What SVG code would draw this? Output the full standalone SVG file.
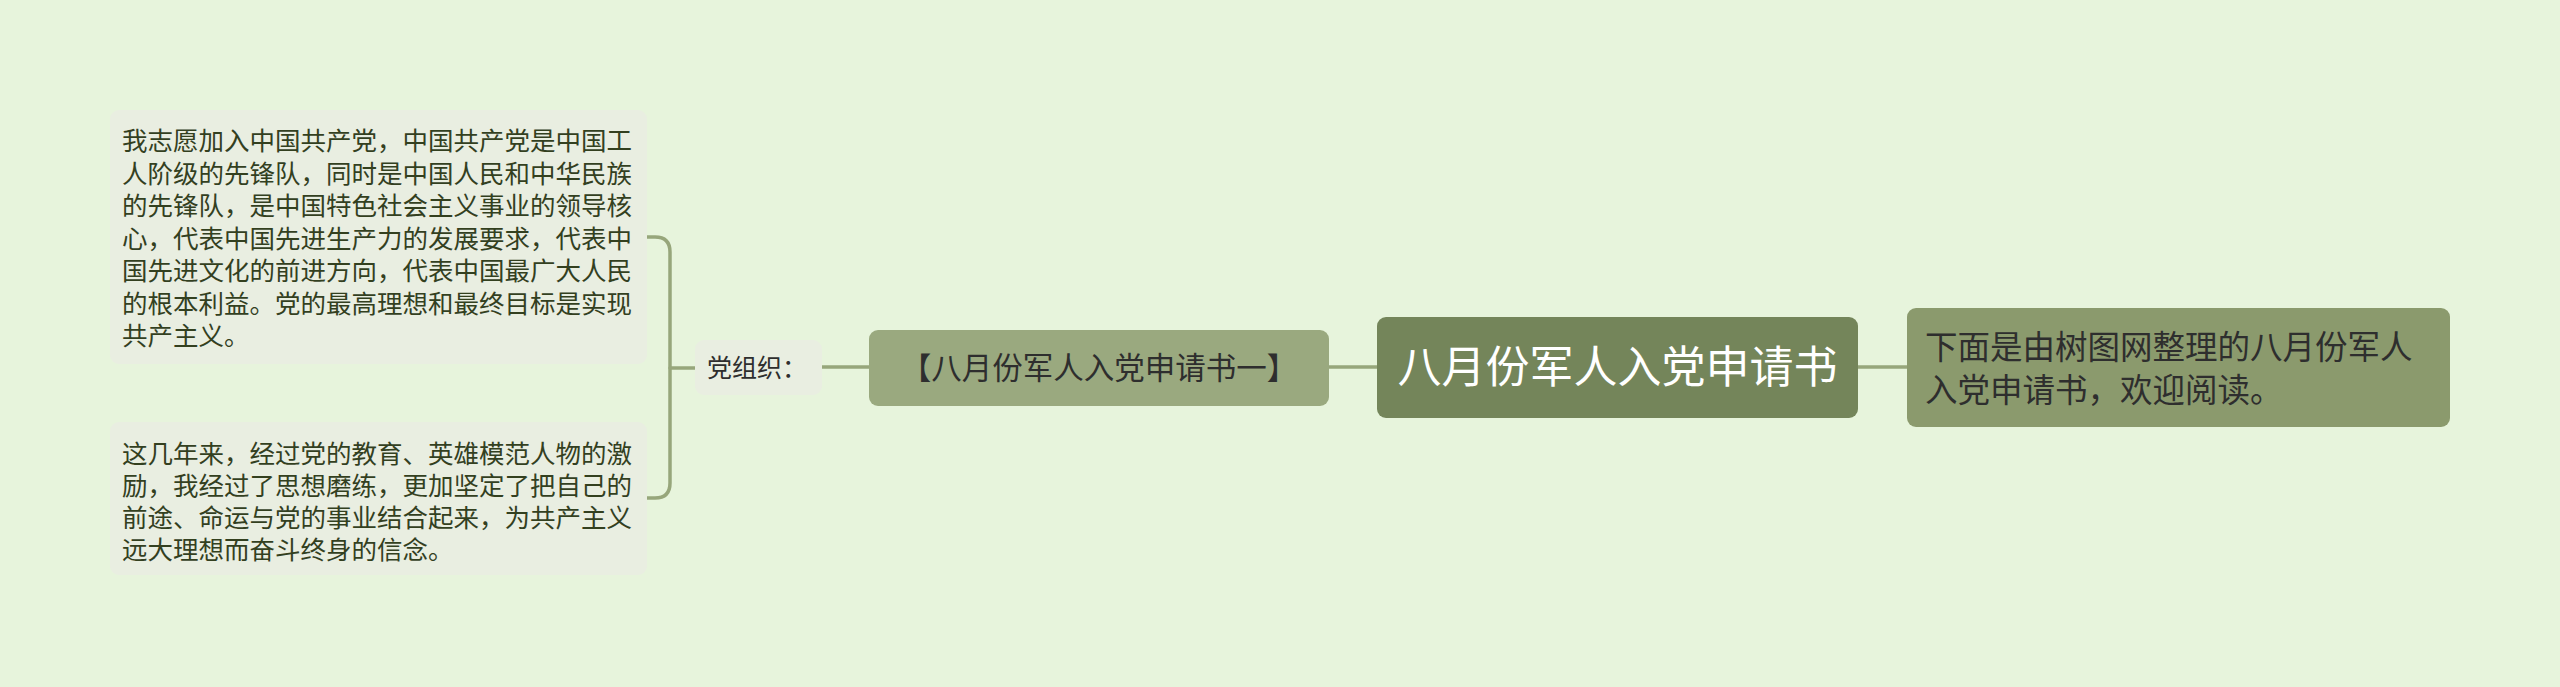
<svg xmlns="http://www.w3.org/2000/svg" width="2560" height="687" viewBox="0 0 2560 687">
<style>
text{font-family:"Noto Sans CJK SC","Noto Sans",sans-serif}
.conn{fill:none;stroke:#97a67b;stroke-width:3.5;stroke-linecap:round}
.leaf{fill:#e9eee1}
.leaft{font-size:25.5px;fill:#33401f}
.dark{fill:#2e2e2e}
</style>
<rect x="0" y="0" width="2560" height="687" fill="#e7f4dc"/>
<g id="connectors">
<path class="conn" d="M647,237 H655 Q670,237 670,252 V483 Q670,498 655,498 H647"/>
<path class="conn" d="M670,368 H695"/>
<path class="conn" d="M822,367 H869"/>
<path class="conn" d="M1329,367 H1377"/>
<path class="conn" d="M1858,367 H1907"/>
</g>
<g id="root">
<rect x="1377" y="317" width="481" height="101" rx="9" fill="#74855a"/>
<text x="1617.5" y="383" font-size="44" fill="#ffffff" text-anchor="middle">八月份军人入党申请书</text>
</g>
<g id="intro">
<rect x="1907" y="308" width="543" height="119" rx="9" fill="#8b9a6d"/>
<text class="dark" x="1925" y="359" font-size="32.5">下面是由树图网整理的八月份军人</text>
<text class="dark" x="1925" y="402" font-size="32.5">入党申请书，欢迎阅读。</text>
</g>
<g id="sub">
<rect x="869" y="330" width="460" height="76" rx="9" fill="#9aa97f"/>
<text class="dark" x="1099" y="379" font-size="30.5" text-anchor="middle">【八月份军人入党申请书一】</text>
</g>
<g id="label">
<rect x="695" y="340" width="127" height="55" rx="9" class="leaf"/>
<text class="dark" x="707" y="377" font-size="25">党组织：</text>
</g>
<g id="leaf1">
<rect x="110" y="110" width="537" height="254" rx="9" class="leaf"/>
<text class="leaft" x="122" y="150">我志愿加入中国共产党，中国共产党是中国工</text>
<text class="leaft" x="122" y="182.5">人阶级的先锋队，同时是中国人民和中华民族</text>
<text class="leaft" x="122" y="215">的先锋队，是中国特色社会主义事业的领导核</text>
<text class="leaft" x="122" y="247.5">心，代表中国先进生产力的发展要求，代表中</text>
<text class="leaft" x="122" y="280">国先进文化的前进方向，代表中国最广大人民</text>
<text class="leaft" x="122" y="312.5">的根本利益。党的最高理想和最终目标是实现</text>
<text class="leaft" x="122" y="345">共产主义。</text>
</g>
<g id="leaf2">
<rect x="110" y="422" width="537" height="153" rx="9" class="leaf"/>
<text class="leaft" x="122" y="463">这几年来，经过党的教育、英雄模范人物的激</text>
<text class="leaft" x="122" y="495">励，我经过了思想磨练，更加坚定了把自己的</text>
<text class="leaft" x="122" y="527">前途、命运与党的事业结合起来，为共产主义</text>
<text class="leaft" x="122" y="559">远大理想而奋斗终身的信念。</text>
</g>
</svg>
